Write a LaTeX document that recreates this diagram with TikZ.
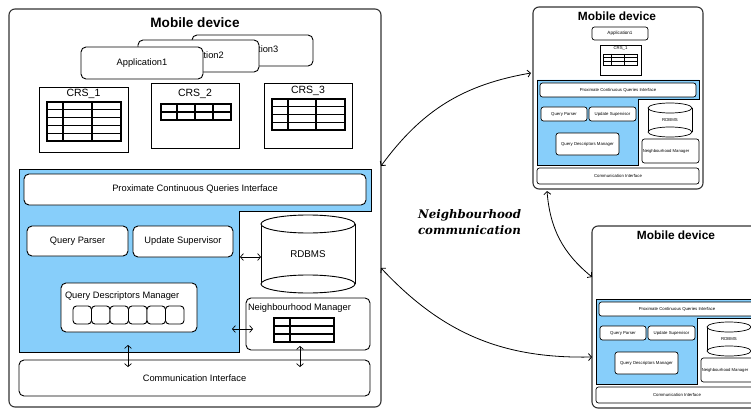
\documentclass[tikz,border=0pt]{standalone}
\usepackage{fontspec}
\setmainfont{Liberation Sans}
\newfontfamily\commfont{DejaVu Serif}
\usetikzlibrary{arrows.meta}
\definecolor{skyb}{HTML}{87CEFA}
\definecolor{devline}{HTML}{333333}

\tikzset{
  box/.style={draw=black, fill=white, rounded corners=5pt, line width=0.9pt, inner sep=0pt, outer sep=0pt, font=\fontsize{9.3}{11}\selectfont},
  sbox/.style={box, rounded corners=2.5pt, line width=0.7pt, font=\fontsize{4.3}{5}\selectfont},
  devbox/.style={draw=devline, fill=white, rounded corners=6pt, line width=1.1pt, inner sep=0pt, outer sep=0pt},
  crsbox/.style={draw=black, fill=white, line width=0.9pt, inner sep=0pt, outer sep=0pt},
  scrsbox/.style={crsbox, line width=0.7pt},
  tab/.style={line width=1.1pt},
  stab/.style={line width=0.8pt},
  cylline/.style={draw=black, line width=0.9pt},
  scylline/.style={draw=black, line width=0.7pt},
  bluereg/.style={fill=skyb, draw=black, line width=1pt},
  sbluereg/.style={fill=skyb, draw=black, line width=0.8pt},
  dbl/.style={{Straight Barb[length=3pt,width=7pt]}-{Straight Barb[length=3pt,width=7pt]}, line width=0.7pt},
  txt/.style={inner sep=0pt, outer sep=0pt},
}

% [style]{name}{x1}{y1}{x2}{y2}{text}
\newcommand\bx[7][box]{\node[#1,minimum width={(#5-#3)*1pt},minimum height={(#6-#4)*1pt}] (#2) at ({(#3+#5)/2},{(#4+#6)/2}) {#7};}
% {style}{x1}{y1}{x2}{y2}{rows}{colsplits}
\newcommand\tbl[7]{%
  \draw[#1] (#2,#3) rectangle (#4,#5);
  \foreach \ii in {1,...,#6} {\pgfmathsetmacro\tyy{#3+(#5-#3)*\ii/#6}\draw[#1] (#2,\tyy) -- (#4,\tyy);}
  \foreach \cc in {#7} {\draw[#1] (\cc,#3) -- (\cc,#5);}
}
% {style}{name}{x1}{y1}{x2}{y2}{ry}{font}
\newcommand\cyl[8]{%
  \pgfmathsetmacro\cylcx{(#3+#5)/2}\pgfmathsetmacro\cylrx{(#5-#3)/2}%
  \pgfmathsetmacro\cylta{#4+#7}\pgfmathsetmacro\cyltb{#6-#7}%
  \fill[white] (#3,\cylta) rectangle (#5,\cyltb);
  \draw[#1] (#3,\cylta) -- (#3,\cyltb) (#5,\cylta) -- (#5,\cyltb);
  \draw[#1, fill=white] (\cylcx,\cyltb) ellipse [x radius=\cylrx pt, y radius=#7pt];
  \draw[#1, fill=white] (\cylcx,\cylta) ellipse [x radius=\cylrx pt, y radius=#7pt];
  \node[txt, font=#8, minimum width={(#5-#3)*1pt}, minimum height={(#6-#4)*1pt}] (#2) at (\cylcx,{(#4+#6)/2}) {RDBMS};
}
% small device body, prefix #1
\newcommand\smalldev[1]{%
  \bx[devbox]{#1dev}{0}{0}{170}{182}{}
  \node[txt, font=\bfseries\fontsize{11.9}{13}\selectfont] (#1title) at (84,9.5) {Mobile device};
  \draw[sbluereg] (4,73) -- (166,73) -- (166,92) -- (105,92) -- (105,158) -- (4,158) -- cycle;
  \bx[sbox]{#1pcqi}{7}{76}{163}{90}{Proximate Continuous Queries Interface}
  \bx[sbox]{#1qp}{8}{100}{54}{114}{Query Parser}
  \bx[sbox]{#1us}{56}{100}{103}{114}{Update Supervisor}
  \bx[sbox]{#1qdm}{23}{126}{86}{148}{Query Descriptors Manager}
  \cyl{scylline}{#1rdbms}{115}{96}{159}{130}{5}{\fontsize{4.3}{5}\selectfont}
  \bx[sbox]{#1nm}{109}{132}{166}{156}{}
  \node[txt, anchor=west, font=\fontsize{4.2}{5}\selectfont] (#1nml) at (109.8,144) {Neighbourhood Manager};
  \bx[sbox]{#1comm}{4}{161}{166}{177}{Communication Interface}
}

\begin{document}
\begin{tikzpicture}[x=1pt,y=-1pt]
\useasboundingbox (0,0) rectangle (751,409);
\clip (0,0) rectangle (751,409);

% ---------- main device ----------
\bx[devbox]{main}{9}{9}{381}{407}{}
\node[txt, font=\bfseries\fontsize{13.6}{15}\selectfont] (maintitle) at (195,22.5) {Mobile device};

\bx[box]{app3}{192}{35}{313}{66}{\hspace*{1pt}Application3}
\bx[box]{app2}{138}{40}{259}{72}{Application2}
\bx[box]{app1}{81}{47}{203}{79}{Application1}

\bx[crsbox]{crs1}{39}{87}{128}{152}{}
\node[txt, font=\fontsize{10.5}{12}\selectfont] (crs1l) at (83.5,94) {CRS\_1};
\tbl{tab}{47}{102}{121}{141}{5}{63,92}
\bx[crsbox]{crs2}{151}{83}{239}{148}{}
\node[txt, font=\fontsize{10.5}{12}\selectfont] (crs2l) at (195,93.5) {CRS\_2};
\tbl{tab}{161}{104}{231}{120}{2}{177,195,213}
\bx[crsbox]{crs3}{264}{83}{352}{148}{}
\node[txt, font=\fontsize{10.5}{12}\selectfont] (crs3l) at (308,91) {CRS\_3};
\tbl{tab}{272}{99}{345}{130}{4}{288,316}

\draw[bluereg] (19,169) -- (371,169) -- (371,211) -- (239,211) -- (239,352) -- (19,352) -- cycle;
\bx[box]{pcqi}{24}{174}{366}{205}{Proximate Continuous Queries Interface}
\bx[box]{qp}{27}{226}{128}{256}{Query Parser}
\bx[box]{us}{133}{226}{233}{257}{Update Supervisor}
\cyl{cylline}{rdbms}{261}{215}{355}{293}{9}{\fontsize{9.8}{11}\selectfont}
\bx[box]{qdm}{61}{283}{197}{332}{}
\node[txt, anchor=west, font=\fontsize{9.3}{11}\selectfont] (qdml) at (65,296) {Query Descriptors Manager};
\foreach \k in {0,...,5} {
  \pgfmathsetmacro\cxa{73+18.5*\k}\pgfmathsetmacro\cxb{73+18.5*(\k+1)}
  \bx[box, rounded corners=3.5pt]{cell\k}{\cxa}{306}{\cxb}{324}{}
}
\bx[box]{nm}{246}{298}{370}{350}{}
\node[txt, anchor=west, font=\fontsize{9.3}{11}\selectfont] (nml) at (248,308) {Neighbourhood Manager};
\tbl{tab}{274}{318}{334}{342}{3}{290}
\bx[box]{comm}{19}{360}{370}{396}{Communication Interface}

\draw[dbl] ([xshift=-21pt,yshift=-3pt]rdbms.west) -- ([yshift=-3pt]rdbms.west);
\draw[dbl] ([xshift=-14pt,yshift=-5pt]nm.west) -- ([xshift=7pt,yshift=-5pt]nm.west);
\draw[dbl] ([yshift=15pt]comm.north -| qp.east) -- ([yshift=-7pt]comm.north -| qp.east);
\draw[dbl] ([xshift=-8pt,yshift=4pt]nm.south) -- ([xshift=-8pt,yshift=-7pt]nm.south |- comm.north);

% ---------- top-right device ----------
\begin{scope}[shift={(533,7)}]
  \smalldev{tr}
  \bx[sbox]{trapp}{59}{20}{115}{33}{\fontsize{4.6}{5}\selectfont Application1}
  \bx[scrsbox]{trcrs}{67}{38}{108}{68}{}
  \node[txt, font=\fontsize{4.3}{5}\selectfont] (trcrsl) at (87.5,41.5) {CRS\_1};
  \tbl{stab}{70}{47}{104}{58}{3}{78,91}
\end{scope}

% ---------- bottom-right device ----------
\begin{scope}[shift={(592,226)}]
  \smalldev{br}
\end{scope}

% ---------- neighbourhood communication ----------
\node[txt, anchor=west, align=left, font=\commfont\bfseries\itshape\fontsize{11.8}{16}\selectfont] (nclabel) at (418,221.6) {Neighbourhood\\communication};

\draw[dbl, line width=0.8pt] ([yshift=42pt]main.east) to[bend left=22] ([xshift=-2pt,yshift=25pt]trdev.west);
\draw[dbl, line width=0.8pt] ([xshift=-71pt,yshift=-2pt]trdev.south) to[bend right=23] ([yshift=40pt]brdev.west);
\draw[dbl, line width=0.8pt] ([yshift=-60pt]main.east) to[bend right=24] ([yshift=-40pt]brdev.west);
\end{tikzpicture}
\end{document}
